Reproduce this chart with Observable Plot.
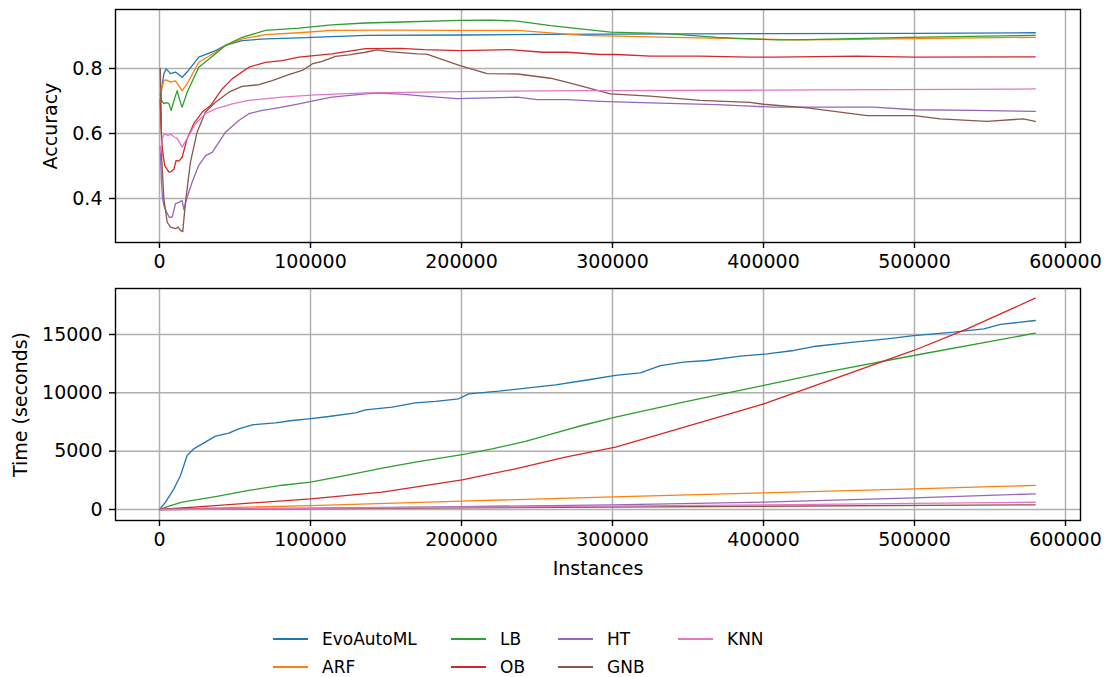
<!DOCTYPE html>
<html><head><meta charset="utf-8">
<script src="https://cdn.jsdelivr.net/npm/d3@7"></script>
<script src="https://cdn.jsdelivr.net/npm/@observablehq/plot@0.6"></script>
<style>
body{margin:0;background:#fff;font-family:"DejaVu Sans",sans-serif;}
#wrap{position:relative;width:1106px;height:677px;overflow:hidden;}
#charts svg{display:block;}
#legend{position:absolute;left:273px;top:625px;display:grid;grid-template-columns:178px 107px 120px auto;grid-template-rows:28px 28px;grid-auto-flow:column;font-size:17px;color:#000;}
.item{display:flex;align-items:center;white-space:nowrap;}
.sw{display:block;width:35px;height:2px;margin-right:14px;flex:none;}
</style></head><body><div id="wrap"><div id="charts"></div><div id="legend"></div></div>
<script>
const names = ["EvoAutoML","ARF","LB","OB","HT","GNB","KNN"];
const colors = ["#1f77b4","#ff7f0e","#2ca02c","#d62728","#9467bd","#8c564b","#e377c2"];
const xTicks = [0,100000,200000,300000,400000,500000,600000];
const accTicks = [0.4,0.6,0.8];
const timeTicks = [0,5000,10000,15000];

// Accuracy series: [instances, accuracy]
const evoAcc = [[500,0.70],[1500,0.74],[2900,0.784],[4400,0.799],[7300,0.784],[10600,0.789],[15000,0.773],[18300,0.789],[26000,0.835],[37100,0.855],[43700,0.871],[54700,0.886],[70200,0.891],[92300,0.894],[136400,0.902],[200000,0.903],[250000,0.905],[300000,0.906],[400000,0.907],[500000,0.908],[580000,0.910]];
const arfAcc = [[500,0.70],[1500,0.74],[2900,0.763],[4400,0.765],[7300,0.758],[10600,0.762],[15000,0.732],[18300,0.753],[26000,0.819],[37100,0.850],[43700,0.871],[54700,0.891],[70200,0.904],[92300,0.910],[114000,0.917],[150000,0.918],[200000,0.917],[237000,0.917],[281000,0.902],[340000,0.896],[391000,0.891],[420000,0.888],[450000,0.889],[500000,0.892],[580000,0.896]];
const lbAcc = [[500,0.72],[1500,0.70],[2900,0.692],[4400,0.695],[6200,0.692],[7700,0.671],[9500,0.700],[11700,0.732],[13200,0.705],[15000,0.681],[18300,0.727],[26000,0.804],[37100,0.845],[43700,0.871],[54700,0.896],[70200,0.917],[92300,0.924],[114000,0.934],[136400,0.940],[160000,0.943],[199000,0.948],[219000,0.949],[237000,0.946],[259000,0.932],[298700,0.912],[336000,0.907],[369000,0.896],[391000,0.891],[410000,0.888],[429000,0.889],[495000,0.896],[580000,0.902]];
const obAcc = [[500,0.70],[1000,0.62],[2000,0.55],[3400,0.502],[6200,0.481],[7700,0.483],[9500,0.490],[11000,0.517],[12800,0.515],[15000,0.527],[18300,0.584],[22700,0.630],[28300,0.666],[33800,0.686],[41500,0.737],[48100,0.768],[59200,0.804],[70200,0.819],[81200,0.824],[92300,0.835],[114000,0.845],[136400,0.861],[160000,0.862],[175000,0.858],[199000,0.855],[232000,0.858],[254000,0.850],[270000,0.850],[292000,0.843],[303000,0.843],[325000,0.838],[358000,0.838],[391000,0.835],[407000,0.835],[462000,0.838],[500000,0.835],[580000,0.836]];
const htAcc = [[500,0.56],[1200,0.46],[2000,0.40],[2900,0.378],[5100,0.354],[6600,0.342],[8400,0.343],[10600,0.384],[12800,0.388],[15000,0.394],[16100,0.366],[18300,0.404],[21600,0.450],[26000,0.502],[30500,0.532],[34900,0.542],[43700,0.604],[52500,0.640],[59200,0.661],[68000,0.671],[72400,0.674],[81200,0.681],[92300,0.691],[103300,0.702],[114300,0.712],[136400,0.722],[144000,0.724],[160000,0.721],[177000,0.714],[197000,0.707],[237000,0.712],[250000,0.704],[270000,0.704],[292000,0.699],[325000,0.694],[369000,0.689],[391000,0.684],[407000,0.681],[473000,0.681],[500000,0.673],[539000,0.671],[580000,0.668]];
const gnbAcc = [[500,0.80],[1000,0.70],[1500,0.52],[2900,0.399],[5100,0.327],[7300,0.312],[10600,0.307],[12400,0.312],[13900,0.302],[15400,0.298],[17200,0.389],[20500,0.512],[24900,0.604],[30400,0.666],[37100,0.696],[45900,0.727],[54700,0.745],[65800,0.750],[74600,0.763],[85600,0.781],[94500,0.794],[101100,0.814],[107700,0.822],[116600,0.837],[125400,0.842],[136400,0.850],[144000,0.857],[152000,0.852],[170600,0.845],[177000,0.844],[199000,0.809],[217000,0.784],[237000,0.783],[259000,0.770],[274000,0.753],[298700,0.722],[325000,0.715],[358000,0.702],[391000,0.696],[400000,0.690],[429000,0.679],[468600,0.655],[500000,0.655],[517000,0.645],[548000,0.637],[572000,0.645],[580000,0.637]];
const knnAcc = [[500,0.56],[1000,0.54],[1800,0.584],[3400,0.599],[5500,0.594],[7700,0.597],[9500,0.590],[11700,0.585],[15000,0.558],[18300,0.584],[23800,0.630],[30400,0.661],[37100,0.676],[48100,0.691],[59200,0.702],[81200,0.712],[103300,0.719],[136400,0.725],[199000,0.729],[280000,0.732],[391000,0.733],[580000,0.737]];

// Time series: [instances, seconds]
const evoTime = [[0,0],[4000,630],[9500,1770],[13900,2910],[18300,4630],[22700,5200],[28300,5630],[37100,6290],[45900,6540],[52500,6910],[61400,7260],[76800,7430],[87900,7630],[98900,7770],[112100,7970],[129800,8290],[136400,8540],[154100,8770],[169500,9140],[182800,9260],[198200,9490],[204800,9910],[224700,10140],[262300,10690],[284300,11120],[302000,11490],[318500,11710],[331800,12340],[347000,12630],[362600,12770],[384800,13140],[402400,13340],[420000,13630],[433300,13970],[459800,14340],[481900,14630],[499500,14910],[526000,15200],[545900,15490],[557000,15860],[580000,16200]];
const arfTime = [[0,0],[100000,340],[200000,714],[300000,1086],[400000,1430],[500000,1770],[580000,2060]];
const lbTime = [[0,0],[7300,340],[15000,630],[37100,1110],[59200,1630],[81200,2080],[100000,2340],[125400,2970],[147500,3540],[169500,4060],[200400,4710],[220300,5200],[242300,5830],[260000,6490],[279800,7200],[302000,7910],[347000,9200],[400200,10630],[446600,11910],[499500,13200],[580000,15110]];
const obTime = [[0,0],[37100,340],[100000,914],[147500,1490],[200400,2540],[235700,3490],[268800,4480],[302000,5340],[336200,6630],[400200,9060],[446600,11200],[499500,13630],[534900,15490],[580000,18110]];
const htTime = [[0,0],[100000,120],[200000,250],[300000,400],[400000,630],[500000,1000],[580000,1340]];
const gnbTime = [[0,0],[200000,140],[400000,280],[580000,400]];
const knnTime = [[0,0],[200000,200],[400000,400],[580000,620]];

const accSeries = [evoAcc, arfAcc, lbAcc, obAcc, htAcc, gnbAcc, knnAcc];
const timeSeries = [evoTime, arfTime, lbTime, obTime, htTime, gnbTime, knnTime];

const FONT = "DejaVu Sans";
const GRID = "#b0b0b0";
const xDomain = [-29139, 609934];

function panel({series, yDomain, yTicks, yFormat, yLabel, yLabelOffset, height, marginTop, marginBottom, xLabel}) {
  const lines = series.map((pts, i) => Plot.line(pts, {x: d => d[0], y: d => d[1], stroke: colors[i], strokeWidth: 1.3}));
  return Plot.plot({
    width: 1106, height, marginLeft: 115, marginRight: 26, marginTop, marginBottom,
    style: {fontFamily: FONT, fontSize: "19px", background: "#fff", color: "#000"},
    x: {domain: xDomain},
    y: {domain: yDomain},
    marks: [
      Plot.gridX({ticks: xTicks, stroke: GRID, strokeOpacity: 1, strokeWidth: 1.5}),
      Plot.gridY({ticks: yTicks, stroke: GRID, strokeOpacity: 1, strokeWidth: 1.5}),
      ...lines,
      Plot.frame({stroke: "#000", strokeWidth: 1.4}),
      Plot.axisX({ticks: xTicks, tickFormat: d => String(d), tickSize: 6, tickPadding: 6, strokeWidth: 1.4, fontSize: 19,
        label: xLabel, labelAnchor: "center", labelOffset: 54, labelArrow: "none"}),
      Plot.axisY({ticks: yTicks, tickFormat: yFormat, tickSize: 6, tickPadding: 7, strokeWidth: 1.4, fontSize: 19,
        label: yLabel, labelAnchor: "center", labelOffset: yLabelOffset, labelArrow: "none"})
    ]
  });
}

const accChart = panel({series: accSeries, yDomain: [0.2646, 0.9815], yTicks: accTicks, yFormat: d => d.toFixed(1),
  yLabel: "Accuracy", yLabelOffset: 72, height: 280, marginTop: 9, marginBottom: 38, xLabel: null});
const timeChart = panel({series: timeSeries, yDomain: [-943, 18943], yTicks: timeTicks, yFormat: d => String(d),
  yLabel: "Time (seconds)", yLabelOffset: 102, height: 305, marginTop: 8, marginBottom: 65, xLabel: "Instances"});

document.getElementById("charts").append(accChart, timeChart);

const legend = document.getElementById("legend");
names.forEach((n, i) => {
  const item = document.createElement("div");
  item.className = "item";
  const sw = document.createElement("div");
  sw.className = "sw";
  sw.style.backgroundColor = colors[i];
  const t = document.createElement("span");
  t.textContent = n;
  item.append(sw, t);
  legend.append(item);
});
</script></body></html>
